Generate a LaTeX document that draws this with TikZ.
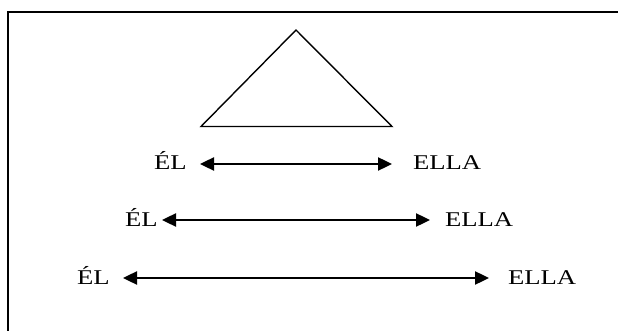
\documentclass[tikz,border=0pt]{standalone}
\usepackage{fontspec}
\setmainfont{Liberation Serif}
\usetikzlibrary{arrows.meta}
\tikzset{
  lbl/.style={inner sep=0pt, outer sep=0pt, anchor=base west, font=\fontsize{21}{25}\selectfont},
  biarrow/.style={line width=2.4pt, {Triangle[length=14pt,width=13pt]}-{Triangle[length=14pt,width=13pt]}},
  frame/.style={line width=2pt},
  tri/.style={line width=1.4pt, line join=miter}
}
\newcommand{\widetxt}[1]{\scalebox{1.27}[1]{#1}}
\begin{document}
\begin{tikzpicture}[x=1pt,y=-1pt]
\useasboundingbox (0,0) rectangle (618,331);
% frame
\draw[frame] (8.3,340) -- (8.3,12) -- (625,12);
% triangle
\draw[tri] (296,30) -- (392,126.5) -- (201,126.5) -- cycle;
% row 1
\node[lbl] (el1) at (154,169.5) {\widetxt{ÉL}};
\node[lbl] (ella1) at (413,169.5) {\widetxt{ELLA}};
\coordinate (l1) at (200,164);
\coordinate (r1) at (392,164);
\draw[biarrow] (l1) -- (r1);
% row 2
\node[lbl] (el2) at (125,226.5) {\widetxt{ÉL}};
\node[lbl] (ella2) at (445,226.5) {\widetxt{ELLA}};
\coordinate (l2) at (162,220);
\coordinate (r2) at (430,220);
\draw[biarrow] (l2) -- (r2);
% row 3
\node[lbl] (el3) at (77,284) {\widetxt{ÉL}};
\node[lbl] (ella3) at (508,284) {\widetxt{ELLA}};
\coordinate (l3) at (123,278);
\coordinate (r3) at (489,278);
\draw[biarrow] (l3) -- (r3);
\end{tikzpicture}
\end{document}
